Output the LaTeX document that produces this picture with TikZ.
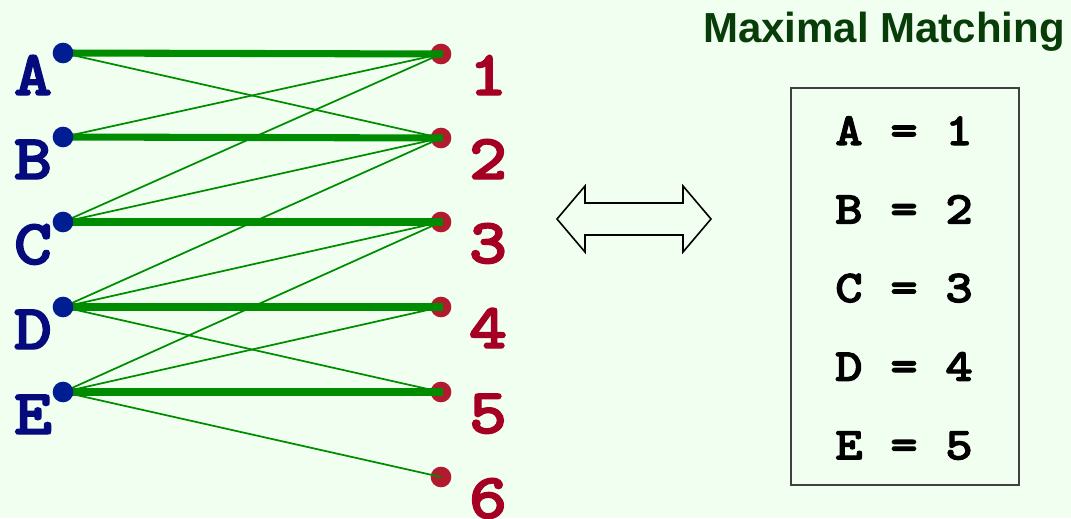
\documentclass[tikz,border=0pt]{standalone}
\usepackage{fontspec}
\setmainfont{Liberation Sans}
\newfontfamily\courbold{lmmonolt10-bold.otf}[FakeStretch=1.14,FakeBold=2.2]
\begin{document}
\definecolor{bg}{RGB}{240,255,240}
\definecolor{edgegreen}{RGB}{0,140,0}
\definecolor{leftblue}{RGB}{0,30,145}
\definecolor{rightred}{RGB}{178,26,46}
\definecolor{lettercol}{RGB}{5,10,125}
\definecolor{digitcol}{RGB}{165,0,35}
\definecolor{titlegreen}{RGB}{8,60,8}
\begin{tikzpicture}[x=0.75pt,y=-0.75pt,
  bdot/.style={circle,fill=leftblue,inner sep=0pt,minimum size=15.5pt},
  rdot/.style={circle,fill=rightred,inner sep=0pt,minimum size=15.5pt},
  thinedge/.style={edgegreen,line width=1.3pt},
  matchedge/.style={edgegreen,line width=5.3pt},
  leftlab/.style={anchor=base,text=lettercol,font=\courbold\fontsize{48}{48}\selectfont,inner sep=0pt},
  rightlab/.style={anchor=base,text=digitcol,font=\courbold\fontsize{48}{48}\selectfont,inner sep=0pt},
  rowtext/.style={anchor=base,font=\courbold\fontsize{34.5}{34.5}\selectfont,inner sep=0pt}]
\fill[bg] (0,0) rectangle (1071,518);
\useasboundingbox (0,0) rectangle (1071,518);

% right-hand vertices (drawn first so the edges lie over them)
\foreach \n/\y in {1/54,2/138,3/222,4/307,5/392,6/477}{
  \node[rdot] (r\n) at (441,\y) {};
  \node[rightlab] (lab\n) at (488,\y+41) {\n};
}
% left-hand vertices
\foreach \n/\y in {A/53,B/137,C/222,D/307,E/392}{
  \coordinate (p\n) at (63,\y);
  \node[leftlab] (lab\n) at (33,\y+42) {\n};
}

% all edges of the graph
\foreach \a/\b in {A/2,B/1,C/1,C/2,D/2,D/3,D/5,E/3,E/4,E/6}
  \draw[thinedge] (p\a) -- (r\b.center);
% the matching
\foreach \a/\b in {A/1,B/2,C/3,D/4,E/5}
  \draw[matchedge] (p\a) -- ([xshift=1.5pt]r\b.center);

\foreach \n in {A,B,C,D,E}
  \node[bdot] (l\n) at (p\n) {};

% double arrow
\draw[line width=1.2pt,line join=miter,fill=bg]
  (557,219) -- (585,186) -- (585,203) -- (683,203) -- (683,186) -- (711,219)
  -- (683,252) -- (683,235) -- (585,235) -- (585,252) -- cycle;

% title and result box
\node[anchor=base west,inner sep=0pt,text=titlegreen,font=\bfseries\fontsize{31.5}{31.5}\selectfont] (title) at (703,42) {Maximal Matching};
\node[draw=black!75,line width=0.8pt,minimum width=171pt,minimum height=297.75pt,inner sep=0pt] (box) at (905,286.5) {};
\foreach \t/\i in {A = 1/0,B = 2/1,C = 3/2,D = 4/3,E = 5/4}
  \node[rowtext] (row\i) at (904,145+78.6*\i) {\t};
\end{tikzpicture}
\end{document}
